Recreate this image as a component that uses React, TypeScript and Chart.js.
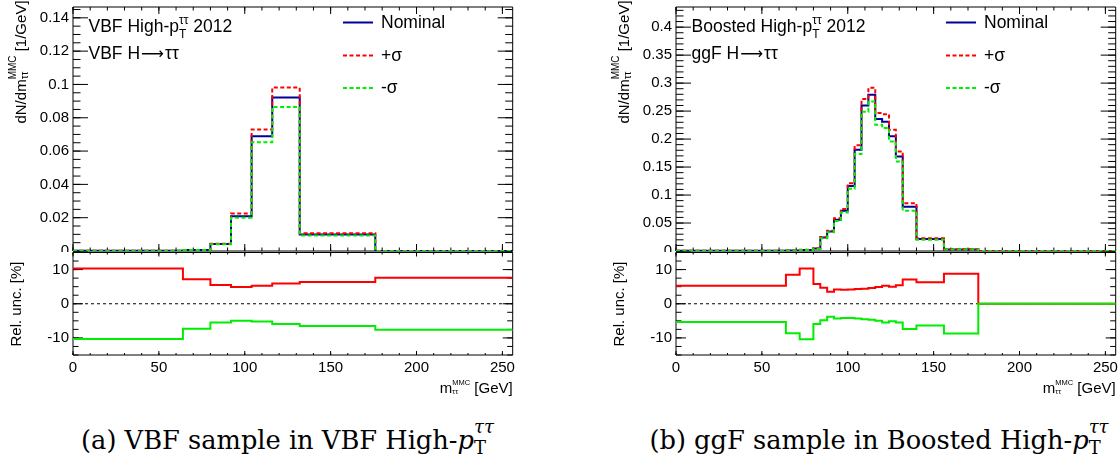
import React, { useEffect, useRef } from 'react';
import { Chart, registerables } from 'chart.js';

Chart.register(...registerables);

// ---------------- data ----------------
const X_MIN = 0;
const X_MAX = 256;
const X_TICKS = [0, 50, 100, 150, 200, 250];
const REL_TICKS = [-10, 0, 10];
const REL_MIN = -15;
const REL_MAX = 15;

const VBF_EDGES = [0, 64, 80, 92, 104, 116, 132, 176, 256];
const VBF_NOMINAL = [0.0001, 0.0006, 0.0042, 0.0209, 0.0689, 0.0922, 0.0099, 0.00005];
const VBF_UP = [0.00011, 0.00064, 0.0044, 0.0225, 0.073, 0.0981, 0.0106, 0.00005];
const VBF_DOWN = [0.00009, 0.00056, 0.004, 0.0199, 0.0653, 0.0865, 0.0093, 0.00005];
const VBF_REL_UP = [10.3, 7.2, 5.5, 4.9, 5.3, 5.9, 6.4, 7.6];
const VBF_REL_DOWN = [-10.3, -7.3, -5.5, -5.0, -5.2, -5.9, -6.5, -7.6];
const VBF_Y_TICKS = [0, 0.02, 0.04, 0.06, 0.08, 0.1, 0.12, 0.14];
const VBF_Y_MAX = 0.1465;

const GGF_EDGES = [0, 64, 72, 80, 84, 88, 92, 96, 100, 104, 108, 112, 116, 120, 124, 128, 132, 140, 156, 176, 256];
const GGF_NOMINAL = [0.0003, 0.001, 0.002, 0.0045, 0.024, 0.035, 0.056, 0.072, 0.116, 0.181, 0.26, 0.279, 0.236, 0.231, 0.205, 0.169, 0.079, 0.0215, 0.0028, 0];
const GGF_UP = [0.00032, 0.00109, 0.0022, 0.0048, 0.0251, 0.0362, 0.0584, 0.075, 0.1209, 0.1888, 0.2714, 0.2918, 0.2465, 0.2445, 0.2165, 0.178, 0.0854, 0.0228, 0.003, 0];
const GGF_DOWN = [0.00028, 0.00091, 0.0018, 0.0042, 0.0228, 0.0337, 0.0536, 0.069, 0.1111, 0.1732, 0.249, 0.267, 0.2256, 0.2197, 0.1957, 0.16, 0.072, 0.02, 0.0025, 0];
const GGF_REL_UP = [5.25, 8.5, 10.3, 5.8, 4.7, 3.5, 4.2, 4.1, 4.2, 4.3, 4.4, 4.6, 4.9, 5.3, 5.0, 5.4, 7.1, 6.3, 8.8, 0];
const GGF_REL_DOWN = [-5.35, -8.6, -10.4, -5.9, -4.8, -3.8, -4.3, -4.2, -4.2, -4.3, -4.5, -4.7, -5.0, -5.5, -5.1, -5.5, -7.4, -6.4, -8.7, 0];
const GGF_Y_TICKS = [0, 0.05, 0.1, 0.15, 0.2, 0.25, 0.3, 0.35, 0.4];
const GGF_Y_MAX = 0.436;

const LEGEND_LABELS = ['Nominal', '+σ', '-σ'];

// ---------------- style ----------------
const W = 1120;
const H = 457;
const FONT = "'Liberation Sans', Arial, Helvetica, sans-serif";
const SERIF = "'DejaVu Serif', 'Liberation Serif', serif";
const BLUE = '#000099';
const RED = '#ff0000';
const GREEN = '#00ee00';
const DASH = [4, 2.5];

function pts(edges: number[], vals: number[]) {
  return edges.map((e, i) => ({ x: e, y: vals[Math.min(i, vals.length - 1)] }));
}
function seq(from: number, to: number, step: number) {
  const out: number[] = [];
  for (let k = 0; from + k * step <= to + 1e-9; k++) out.push(Math.round((from + k * step) * 1e6) / 1e6);
  return out;
}

const framePlugin = {
  id: 'rootFrame',
  beforeDatasetsDraw(chart: any, _a: any, o: any) {
    if (!o || !o.xMajor) return;
    const { ctx, chartArea: a, scales } = chart;
    const xs = scales.x;
    const ys = scales.y;
    const L = a.left, R = a.right, T = a.top, B = a.bottom;
    ctx.save();
    ctx.strokeStyle = '#000';
    ctx.lineWidth = 1;
    ctx.setLineDash([]);
    ctx.beginPath();
    ctx.rect(L, T, R - L, B - T);
    const drawX = (vals: number[], len: number) => {
      for (let i = 0; i < vals.length; i++) {
        const px = xs.getPixelForValue(vals[i]);
        if (px < L - 0.1 || px > R + 0.1) continue;
        ctx.moveTo(px, B); ctx.lineTo(px, B - len);
        ctx.moveTo(px, T); ctx.lineTo(px, T + len);
      }
    };
    const drawY = (vals: number[], len: number) => {
      for (let i = 0; i < vals.length; i++) {
        const py = ys.getPixelForValue(vals[i]);
        if (py < T - 0.1 || py > B + 0.1) continue;
        ctx.moveTo(L, py); ctx.lineTo(L + len, py);
        ctx.moveTo(R, py); ctx.lineTo(R - len, py);
      }
    };
    drawX(o.xMinor, o.xMinLen);
    drawX(o.xMajor, o.xMajLen);
    drawY(o.yMinor, o.yMinLen);
    drawY(o.yMajor, o.yMajLen);
    ctx.stroke();
    ctx.restore();
  },
};

const samplePlugin = {
  id: 'legendSamples',
  afterDatasetsDraw(chart: any, _a: any, o: any) {
    if (!o || !o.items) return;
    const ctx = chart.ctx;
    ctx.save();
    for (let i = 0; i < o.items.length; i++) {
      const it = o.items[i];
      ctx.beginPath();
      ctx.strokeStyle = it.color;
      ctx.lineWidth = 2;
      ctx.setLineDash(it.dashed ? DASH : []);
      ctx.moveTo(it.x1, it.y);
      ctx.lineTo(it.x2, it.y);
      ctx.stroke();
    }
    ctx.restore();
  },
};

function yScale(min: number, max: number, ticks: number[]) {
  return {
    type: 'linear',
    min,
    max,
    grid: { display: false, drawTicks: false },
    border: { display: false },
    ticks: {
      color: '#000',
      font: { family: FONT, size: 15 },
      padding: 4,
      autoSkip: false,
      callback: (v: number) => String(v),
    },
    afterBuildTicks: (s: any) => { s.ticks = ticks.map((v) => ({ value: v })); },
    afterFit: (s: any) => { s.width = 73; s.paddingTop = 0; s.paddingBottom = 0; },
  };
}

type Panel = {
  dx: number;
  edges: number[];
  nominal: number[];
  up: number[];
  down: number[];
  relUp: number[];
  relDown: number[];
  yMax: number;
  yTicks: number[];
  yMinorStep: number;
  region: string;
  process: string;
  caption: string;
  canvasW: number;
};

const PANELS: Panel[] = [
  {
    dx: 0, edges: VBF_EDGES, nominal: VBF_NOMINAL, up: VBF_UP, down: VBF_DOWN,
    relUp: VBF_REL_UP, relDown: VBF_REL_DOWN, yMax: VBF_Y_MAX, yTicks: VBF_Y_TICKS, yMinorStep: 0.005,
    region: 'VBF High-', process: 'VBF H', caption: '(a) VBF sample in VBF High-', canvasW: 520,
  },
  {
    dx: 603, edges: GGF_EDGES, nominal: GGF_NOMINAL, up: GGF_UP, down: GGF_DOWN,
    relUp: GGF_REL_UP, relDown: GGF_REL_DOWN, yMax: GGF_Y_MAX, yTicks: GGF_Y_TICKS, yMinorStep: 0.01,
    region: 'Boosted High-', process: 'ggF H', caption: '(b) ggF sample in Boosted High-', canvasW: 517,
  },
];

const PLOT_W = 439.7; // plot-area width in px

function topConfig(p: Panel): any {
  const base = { stepped: 'before', pointRadius: 0, fill: false, borderWidth: 2 };
  return {
    type: 'line',
    data: {
      datasets: [
        { ...base, label: LEGEND_LABELS[0], data: pts(p.edges, p.nominal), borderColor: BLUE, order: 2 },
        { ...base, label: LEGEND_LABELS[1], data: pts(p.edges, p.up), borderColor: RED, borderDash: DASH, order: 1 },
        { ...base, label: LEGEND_LABELS[2], data: pts(p.edges, p.down), borderColor: GREEN, borderDash: DASH, order: 0 },
      ],
    },
    options: {
      responsive: false,
      animation: false,
      events: [],
      layout: { padding: { left: 0, right: p.canvasW - 73 - PLOT_W, top: 7, bottom: 1 } },
      plugins: {
        legend: { display: false },
        tooltip: { enabled: false },
        rootFrame: {
          xMajor: X_TICKS, xMinor: seq(X_MIN, X_MAX, 10), xMajLen: 7, xMinLen: 3.5,
          yMajor: p.yTicks, yMinor: seq(0, p.yMax, p.yMinorStep), yMajLen: 15, yMinLen: 7.5,
        },
        legendSamples: {
          items: [
            { x1: 343, x2: 373, y: 22.5, color: BLUE, dashed: false },
            { x1: 343, x2: 373, y: 55.5, color: RED, dashed: true },
            { x1: 343, x2: 373, y: 88, color: GREEN, dashed: true },
          ],
        },
      },
      scales: {
        x: { type: 'linear', min: X_MIN, max: X_MAX, display: false },
        y: yScale(0, p.yMax, p.yTicks),
      },
    },
    plugins: [framePlugin, samplePlugin],
  };
}

function bottomConfig(p: Panel): any {
  const base = { stepped: 'before', pointRadius: 0, fill: false };
  return {
    type: 'line',
    data: {
      datasets: [
        { ...base, data: pts(p.edges, p.relDown), borderColor: GREEN, borderWidth: 2, order: 0 },
        { ...base, data: pts(p.edges, p.relUp), borderColor: RED, borderWidth: 2, order: 1 },
        { ...base, data: [{ x: X_MIN, y: 0 }, { x: X_MAX, y: 0 }], borderColor: '#000', borderWidth: 1, borderDash: [3, 3], order: 2 },
      ],
    },
    options: {
      responsive: false,
      animation: false,
      events: [],
      layout: { padding: { left: 0, right: p.canvasW - 73 - PLOT_W, top: 0.5, bottom: 0 } },
      plugins: {
        legend: { display: false },
        tooltip: { enabled: false },
        rootFrame: {
          xMajor: X_TICKS, xMinor: seq(X_MIN, X_MAX, 10), xMajLen: 4, xMinLen: 2,
          yMajor: REL_TICKS, yMinor: seq(REL_MIN, REL_MAX, 2.5), yMajLen: 10, yMinLen: 5.5,
        },
      },
      scales: {
        x: {
          type: 'linear',
          min: X_MIN,
          max: X_MAX,
          grid: { display: false, drawTicks: false },
          border: { display: false },
          ticks: {
            color: '#000',
            font: { family: FONT, size: 15 },
            padding: 4,
            autoSkip: false,
            maxRotation: 0,
            callback: (v: number) => String(v),
          },
          afterBuildTicks: (s: any) => { s.ticks = X_TICKS.map((v) => ({ value: v })); },
          afterFit: (s: any) => { s.height = 27; s.paddingLeft = 0; s.paddingRight = 0; },
        },
        y: yScale(REL_MIN, REL_MAX, REL_TICKS),
      },
    },
    plugins: [framePlugin],
  };
}

function ChartBox(props: { left: number; top: number; width: number; height: number; make: () => any }) {
  const ref = useRef<HTMLCanvasElement | null>(null);
  useEffect(() => {
    const chart = new Chart(ref.current as HTMLCanvasElement, props.make());
    return () => chart.destroy();
  }, []);
  return (
    <canvas
      ref={ref}
      width={props.width}
      height={props.height}
      style={{ position: 'absolute', left: props.left, top: props.top, width: props.width, height: props.height }}
    />
  );
}

function Stack(props: { sup: React.ReactNode; sub: React.ReactNode; size: number; raise: number; lh: number }) {
  return (
    <span
      style={{
        display: 'inline-flex',
        flexDirection: 'column',
        alignItems: 'flex-start',
        fontSize: props.size,
        lineHeight: `${props.lh}px`,
        verticalAlign: `${props.raise}px`,
        margin: '-20px 0',
      }}
    >
      <span>{props.sup}</span>
      <span>{props.sub}</span>
    </span>
  );
}

function Txt(props: { x: number; y: number; size: number; align?: string; family?: string; children: React.ReactNode }) {
  const { x, y, size } = props;
  const align = props.align || 'left';
  const style: any = {
    position: 'absolute',
    top: y - 0.85 * size,
    fontFamily: props.family || FONT,
    fontSize: size,
    lineHeight: `${size}px`,
    whiteSpace: 'nowrap',
    color: '#000',
  };
  if (align === 'left') style.left = x;
  else if (align === 'right') style.right = W - x;
  else { style.left = x; style.transform = 'translateX(-50%)'; }
  return <div style={style}>{props.children}</div>;
}

function RotTxt(props: { cx: number; cy: number; size: number; children: React.ReactNode }) {
  return (
    <div
      style={{
        position: 'absolute',
        left: props.cx,
        top: props.cy,
        transform: 'translate(-50%, -50%) rotate(-90deg)',
        fontFamily: FONT,
        fontSize: props.size,
        lineHeight: `${props.size}px`,
        whiteSpace: 'nowrap',
        color: '#000',
      }}
    >
      {props.children}
    </div>
  );
}

function PanelTexts({ p }: { p: Panel }) {
  const dx = p.dx;
  return (
    <>
      <Txt x={88.5 + dx} y={33.3} size={17.5}>
        {p.region}p<Stack sup="ττ" sub="T" size={12} raise={8.3} lh={14.3} /> 2012
      </Txt>
      <Txt x={88.5 + dx} y={59.4} size={17.5}>
        {p.process}
        <span style={{ fontFamily: "'DejaVu Sans', sans-serif", fontSize: 16, margin: '0 1px' }}>⟶</span>
        ττ
      </Txt>
      <Txt x={381 + dx} y={29.3} size={17.5}>{LEGEND_LABELS[0]}</Txt>
      <Txt x={381 + dx} y={61.7} size={17.5}>{LEGEND_LABELS[1]}</Txt>
      <Txt x={381 + dx} y={94} size={17.5}>{LEGEND_LABELS[2]}</Txt>
      <RotTxt cx={19.5 + dx} cy={61.5} size={15}>
        dN/dm<Stack sup="MMC" sub="ττ" size={10} raise={10.5} lh={12.5} /> [1/GeV]
      </RotTxt>
      <RotTxt cx={14.5 + dx} cy={303.5} size={15}>Rel. unc. [%]</RotTxt>
      <Txt x={512.7 + dx} y={393} size={15} align="right">
        m<Stack sup="MMC" sub="ττ" size={7.5} raise={8} lh={9} /> [GeV]
      </Txt>
      <Txt x={(dx === 0 ? 287.5 : 879)} y={450} size={25.7} align="center" family={SERIF}>
        {p.caption}
        <i>p</i>
        <Stack sup={<i>ττ</i>} sub="T" size={18} raise={16} lh={21} />
      </Txt>
    </>
  );
}

export default function App() {
  return (
    <div style={{ position: 'absolute', left: 0, top: 0, width: W, height: H, overflow: 'hidden', background: '#fff' }}>
      {PANELS.map((p) => (
        <React.Fragment key={p.dx}>
          <ChartBox left={p.dx} top={0} width={p.canvasW} height={252} make={() => topConfig(p)} />
          <ChartBox left={p.dx} top={252} width={p.canvasW} height={130} make={() => bottomConfig(p)} />
          <PanelTexts p={p} />
        </React.Fragment>
      ))}
    </div>
  );
}
